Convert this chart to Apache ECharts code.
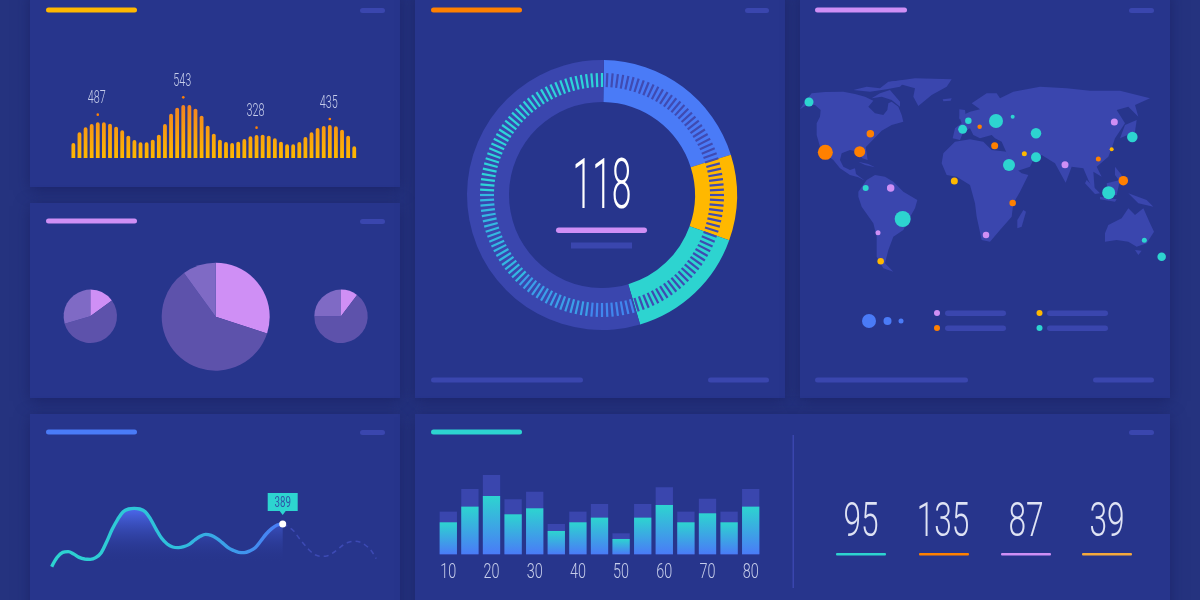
<!DOCTYPE html>
<html><head><meta charset="utf-8">
<style>html,body{margin:0;padding:0;background:#25337f}#c{width:1200px;height:600px}</style>
<script src="https://cdn.jsdelivr.net/npm/echarts@6/dist/echarts.min.js"></script>
</head><body><div id="c"></div>
<script>
// ---------- data ----------
const waveIndex = Array.from({length:47},(_,i)=>i+1);
const waveValues = [45,77,92,102,107,107,103,94,83,67,54,47,47,55,70,102,133,151,159,159,148,127,97,73,55,48,45,49,57,65,69,70,67,59,49,41,41,48,63,77,90,96,99,95,85,67,35];
const wavePeaks = [[4,130,'487'],[18,182,'543'],[30,91,'328'],[42,117,'435']];
const pieLeft = [54,200,106];
const pieMiddle = [108,216,36];
const pieRight = [37,233,90];
const gaugeShares = [71.8,37,54,197.2];
const gaugeValue = '118';
const trendActual = [10,38,53,55,48,38,33,32,37,52,85,122,152,175,183,185,183,175,152,122,95,78,69,67,70,77,90,101,107,104,95,82,68,59,53,52,57,67,87,108,124,135,138];
const trendForecast = [138,130,117,95,75,57,45,41,42,50,62,75,83,86,84,75,60,34];
const trendLabel = [[42,138,'389']];
const barCategories = ['10','15','20','25','30','35','40','45','50','55','60','65','70','75','80'];
const barFront = [96,143,175,120,138,70,96,110,46,110,148,96,123,96,143];
const barBack = [128,196,238,165,188,91,128,151,63,151,201,128,167,128,196];
const metricValues = ['95','135','87','39'];
const citiesTeal = [[27,126,9],[505,182,6.5],[488,208,9],[588,183,14],[638,170,4],[708,220,10.5],[997,231,10.5],[708,292,10],[627,315,12],[926,398,13],[197,384,6],[308,477,16],[1033,541,5],[1085,590,8.5]];
const citiesOrange = [[211,221,7.5],[76,277,15],[179,275,11],[539,200,4.5],[584,257,7],[895,297,5],[970,362,9.5],[638,429,6.5]];
const citiesYellow = [[673,281,5],[935,268,4],[463,363,7],[242,604,6.5]];
const citiesPurple = [[943,186,7],[795,314,7],[272,384,7.5],[234,518,5],[558,525,6.5]];
const landOutlines = {
 northAmerica:[[0,148],[15,125],[35,100],[75,96],[130,95],[165,102],[195,110],[220,122],[205,140],[225,160],[250,165],[262,150],[265,130],[275,125],[295,140],[305,165],[310,185],[275,195],[245,212],[218,240],[197,262],[203,300],[187,295],[175,275],[150,270],[125,280],[120,300],[130,320],[150,330],[165,325],[168,342],[195,362],[175,352],[150,345],[120,325],[100,300],[80,285],[60,260],[50,225],[50,190],[60,170],[62,150],[45,135],[20,135]],
 arctic:[[160,90],[200,80],[240,85],[265,65],[320,60],[300,80],[260,88],[210,95]],
 baffin:[[215,115],[240,100],[270,90],[300,125],[300,140],[275,120],[245,110]],
 greenland:[[270,65],[345,55],[455,58],[440,80],[395,105],[355,138],[340,110],[345,85],[310,75]],
 iceland:[[428,118],[455,115],[452,122],[430,124]],
 cuba:[[175,305],[205,312],[225,322],[195,315]],
 southAmerica:[[175,395],[200,360],[225,345],[255,350],[280,365],[310,395],[352,420],[345,445],[325,480],[310,510],[280,530],[265,570],[255,610],[280,635],[250,625],[230,590],[230,530],[220,490],[185,440],[175,410]],
 africa:[[425,310],[430,280],[465,245],[510,238],[550,245],[575,270],[620,275],[640,320],[665,340],[685,345],[660,395],[640,430],[635,470],[600,510],[570,545],[545,540],[530,470],[525,430],[510,375],[470,350],[440,345]],
 madagascar:[[670,450],[678,455],[665,500],[652,505],[652,480]],
 eurasia:[[458,235],[465,205],[485,190],[478,170],[510,155],[540,148],[515,130],[560,100],[590,100],[600,115],[640,95],[720,80],[800,85],[870,92],[960,92],[1050,115],[1005,135],[1015,170],[985,140],[950,150],[975,190],[945,235],[935,265],[925,290],[890,320],[905,350],[880,335],[885,400],[865,360],[850,325],[815,320],[797,368],[765,310],[725,285],[700,300],[690,320],[645,335],[625,290],[605,245],[585,235],[575,225],[540,235],[520,225],[510,205],[490,215],[480,240]],
 blackSea:[[590,215],[640,210],[650,225],[600,230]],
 caspian:[[665,200],[680,205],[685,240],[668,235]],
 britain:[[478,148],[495,150],[498,175],[478,178]],
 japan:[[975,195],[1010,180],[1005,215],[960,235]],
 sumatra:[[860,360],[900,400],[885,402],[855,370]],
 borneo:[[920,370],[960,360],[950,405],[925,405]],
 java:[[900,410],[950,418],[945,425],[900,418]],
 philippines:[[945,320],[965,345],[960,365],[945,345]],
 newGuinea:[[985,400],[1040,420],[1060,440],[1015,430]],
 australia:[[915,520],[925,495],[965,475],[985,445],[1005,465],[1030,445],[1050,490],[1062,515],[1040,550],[1010,560],[985,545],[950,540],[915,545]],
 tasmania:[[1005,570],[1025,572],[1015,585]]
};

// ---------- palette ----------
const C = {panel:'#27358c',track:'#3a46ae',yellow:'#ffb800',orange:'#ff8000',purple:'#cf8ff5',blue:'#4a7bf7',teal:'#2dd4d0',text:'#c6cdea'};

// ---------- map ----------
const toRing = pts => { const r = pts.map(p=>[p[0],-p[1]]); r.push(r[0]); return r; };
const holes = {eurasia:['blackSea','caspian']};
const holeNames = holes.eurasia;
const features = Object.keys(landOutlines).filter(k=>!holeNames.includes(k)).map(k=>({
  type:'Feature',properties:{name:k},
  geometry:{type:'Polygon',coordinates:[toRing(landOutlines[k])].concat((holes[k]||[]).map(h=>toRing(landOutlines[h])))}
}));
echarts.registerMap('land',{type:'FeatureCollection',features});
const cityPoint = p=>[p[0],-p[1],p[2]];
const cityColors = [[citiesTeal,C.teal],[citiesOrange,C.orange],[citiesYellow,C.yellow],[citiesPurple,C.purple]];

// ---------- furniture ----------
const rr=(x,y,w,h,fill,r)=>({type:'rect',shape:{x,y,width:w,height:h,r:r===undefined?h/2:r},style:{fill},silent:true,z:1});
const panel=(x,y,w,h)=>({type:'rect',shape:{x,y,width:w,height:h},silent:true,z:0,
  style:{fill:C.panel,shadowBlur:14,shadowColor:'rgba(22,26,90,0.55)',shadowOffsetY:3}});
const scaled=(text,x,y,size,sx,fill)=>({type:'text',x,y,scaleX:sx,silent:true,z:3,
  style:{text,fill,font:'300 '+size+'px Roboto',textAlign:'center',textVerticalAlign:'middle'}});
const metricX=[861,943,1026,1107], metricLine=[836,919,1001,1082], metricColor=[C.teal,C.orange,C.purple,'#f5a93c'];
const graphics=[
  panel(30,-10,370,197),panel(30,203,370,195),panel(415,-10,370,408),panel(800,-10,370,408),panel(30,414,370,200),panel(415,414,755,200),
  rr(46,7.5,91,5,C.yellow),rr(431,7.5,91,5,C.orange),rr(815,7.5,92,5,C.purple),rr(46,218.5,91,5,C.purple),rr(46,429.5,91,5,C.blue),rr(431,429.5,91,5,C.teal),
  rr(360,8,25,5,C.track),rr(745,8,24,5,C.track),rr(1129,8,25,5,C.track),rr(360,219,25,5,C.track),rr(360,430,25,5,C.track),rr(1129,430,25,5,C.track),
  rr(431,377.5,152,5,C.track),rr(708,377.5,61,5,C.track),rr(815,377.5,153,5,C.track),rr(1093,377.5,61,5,C.track),
  rr(556,227.5,91,5.5,C.purple),rr(571,242.5,61,6,C.track,0),
  rr(792.5,435,1.5,153,C.track,0),
  {type:'circle',shape:{cx:869,cy:321,r:7},style:{fill:C.blue},silent:true,z:1},
  {type:'circle',shape:{cx:887.5,cy:321,r:4},style:{fill:C.blue},silent:true,z:1},
  {type:'circle',shape:{cx:901,cy:321,r:2.5},style:{fill:C.blue},silent:true,z:1},
  {type:'circle',shape:{cx:937,cy:313,r:3},style:{fill:C.purple},silent:true,z:1},
  {type:'circle',shape:{cx:937,cy:328,r:3},style:{fill:C.orange},silent:true,z:1},
  {type:'circle',shape:{cx:1039.5,cy:313,r:3},style:{fill:C.yellow},silent:true,z:1},
  {type:'circle',shape:{cx:1039.5,cy:328,r:3},style:{fill:C.teal},silent:true,z:1},
  rr(945,310.5,61,5.5,C.track),rr(945,325.5,61,5.5,C.track),rr(1047,310.5,61,5.5,C.track),rr(1047,325.5,61,5.5,C.track),
  scaled(gaugeValue,602,190,71,0.5,'#ffffff')
];
metricValues.forEach((v,i)=>{
  graphics.push(scaled(v,metricX[i],524,48,0.66,'#dfe3f4'));
  graphics.push(rr(metricLine[i],553,50,2.6,metricColor[i],1));
});

// ---------- gauge tick colours ----------
const tickStops=[[0.455,'#3f4bb2'],[0.52,'#4187ee'],[0.62,'#3b9fe9'],[0.75,'#33b8e2'],[1,'#2dd4d9']];

const pie=(vals,cx,cy,r)=>({type:'pie',center:[cx,cy],radius:[0,r],startAngle:90,silent:true,label:{show:false},labelLine:{show:false},
  animation:false,data:vals.map((v,i)=>({value:v,itemStyle:{color:[C.purple,'#5d52ab','#7f6ac5'][i]}}))});

const opt={
  backgroundColor:'#25337f',animation:false,
  graphic:{elements:graphics},
  grid:[
    {left:70.3,top:98,width:287,height:60},
    {left:51.7,top:470,width:324.5,height:100},
    {left:437.5,top:474.3,width:324,height:80}
  ],
  xAxis:[
    {gridIndex:0,type:'category',data:waveIndex,show:false},
    {gridIndex:1,type:'category',boundaryGap:false,data:Array.from({length:60},(_,i)=>i),show:false},
    {gridIndex:2,type:'category',data:barCategories,axisLine:{show:false},axisTick:{show:false},axisLabel:{show:false}}
  ],
  yAxis:[
    {gridIndex:0,type:'value',min:0,max:180,show:false},
    {gridIndex:1,type:'value',min:0,max:300,show:false},
    {gridIndex:2,type:'value',min:0,max:240,show:false}
  ],
  geo:{map:'land',roam:false,silent:true,aspectScale:1,boundingCoords:[[0,0],[1110,-870]],left:800,top:60,width:370,height:290,
    label:{show:false},itemStyle:{areaColor:C.track,borderWidth:0},emphasis:{disabled:true}},
  series:[
    {type:'bar',xAxisIndex:0,yAxisIndex:0,data:waveValues,barWidth:3.8,silent:true,
     itemStyle:{borderRadius:[2,2,0,0],color:{type:'linear',global:true,x:0,y:105,x2:0,y2:158,colorStops:[{offset:0,color:'#f28322'},{offset:1,color:'#ffb800'}]}}},
    {type:'custom',xAxisIndex:0,yAxisIndex:0,silent:true,z:4,data:wavePeaks,encode:{x:0,y:1},
     renderItem:(p,api)=>{const pt=api.coord([api.value(0),api.value(1)]);
       return {type:'group',children:[
        {type:'circle',shape:{cx:pt[0],cy:pt[1],r:1.3},style:{fill:C.orange}},
        {type:'text',x:pt[0]-1,y:pt[1]-16,scaleX:0.6,style:{text:wavePeaks[p.dataIndex][2],fill:C.text,font:'300 18px Roboto',textAlign:'center',textVerticalAlign:'middle'}}
       ]};}},
    pie(pieLeft,90.3,316.3,26.7),pie(pieMiddle,215.7,316.7,54),pie(pieRight,341,316.3,26.7),
    {type:'pie',center:[602,195],radius:[93,135],startAngle:89.2,silent:true,label:{show:false},labelLine:{show:false},
     data:gaugeShares.map((v,i)=>({value:v,itemStyle:{color:[C.blue,C.yellow,C.teal,C.track][i]}}))},
    {type:'gauge',center:[602,195],radius:122,startAngle:90,endAngle:-270,min:0,max:144,splitNumber:144,silent:true,z:5,
     axisLine:{show:false,lineStyle:{width:0,color:tickStops}},axisTick:{show:false},axisLabel:{show:false},pointer:{show:false},
     splitLine:{distance:0,length:14,lineStyle:{color:'auto',width:2.2}},detail:{show:false},title:{show:false},data:[]},
    ...cityColors.map(([d,c])=>({type:'scatter',coordinateSystem:'geo',data:d.map(cityPoint),symbolSize:v=>v[2],silent:true,z:4,itemStyle:{color:c,opacity:1}})),
    {type:'line',xAxisIndex:1,yAxisIndex:1,data:trendActual,smooth:0.35,showSymbol:false,silent:true,z:3,
     lineStyle:{width:3.4,color:{type:'linear',global:true,x:50,y:0,x2:283,y2:0,colorStops:[{offset:0,color:C.teal},{offset:0.55,color:'#2fbfdc'},{offset:1,color:C.blue}]}},
     areaStyle:{opacity:1,color:{type:'linear',global:true,x:0,y:508,x2:0,y2:562,colorStops:[{offset:0,color:'#4d6af0'},{offset:1,color:'rgba(39,53,140,0)'}]}}},
    {type:'line',xAxisIndex:1,yAxisIndex:1,data:Array(42).fill(null).concat(trendForecast),smooth:0.35,showSymbol:false,silent:true,z:2,
     lineStyle:{width:1.5,color:'#3d4ab4',type:[5,4]}},
    {type:'custom',xAxisIndex:1,yAxisIndex:1,silent:true,z:6,data:trendLabel,encode:{x:0,y:1},
     renderItem:(p,api)=>{const pt=api.coord([api.value(0),api.value(1)]);
       return {type:'group',children:[
        {type:'circle',shape:{cx:pt[0],cy:pt[1],r:3.5},style:{fill:'#fff'}},
        {type:'polygon',shape:{points:[[pt[0]-3,pt[1]-13],[pt[0]+3,pt[1]-13],[pt[0],pt[1]-9]]},style:{fill:C.teal}},
        {type:'rect',shape:{x:pt[0]-15,y:pt[1]-31,width:30,height:18},style:{fill:C.teal}},
        {type:'text',x:pt[0],y:pt[1]-21,scaleX:0.65,style:{text:trendLabel[p.dataIndex][2],fill:'#2f56a8',font:'400 15px Roboto',textAlign:'center',textVerticalAlign:'middle'}}
       ]};}},
    {type:'bar',xAxisIndex:2,yAxisIndex:2,data:barBack,barWidth:17.3,barGap:'-100%',silent:true,itemStyle:{color:C.track}},
    {type:'bar',xAxisIndex:2,yAxisIndex:2,data:barFront,barWidth:17.3,barGap:'-100%',silent:true,z:3,
     itemStyle:{color:{type:'linear',x:0,y:0,x2:0,y2:1,colorStops:[{offset:0,color:C.teal},{offset:1,color:C.blue}]}}},
    {type:'custom',xAxisIndex:2,yAxisIndex:2,silent:true,z:4,data:barCategories.map((c,i)=>[i,0,c]).filter((r,i)=>i%2===0),encode:{x:0,y:1},
     renderItem:(p,api)=>{const pt=api.coord([api.value(0),0]);
       return {type:'text',x:pt[0],y:pt[1]+19,scaleX:0.72,style:{text:barCategories[api.value(0)],fill:C.text,font:'300 20px Roboto',textAlign:'center',textVerticalAlign:'middle'}};}}
  ]
};
const chart=echarts.init(document.getElementById('c'),null,{renderer:'canvas',width:1200,height:600});
chart.setOption(opt);
</script></body></html>
